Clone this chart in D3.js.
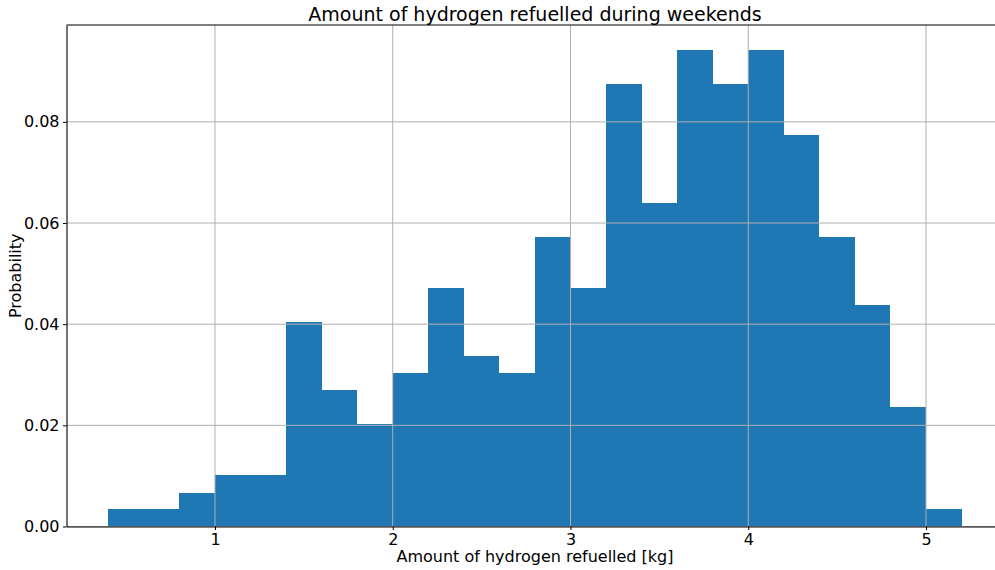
<!DOCTYPE html>
<html>
<head>
<meta charset="utf-8">
<script src="https://cdn.jsdelivr.net/npm/d3@7"></script>
<style>
  body { margin: 0; background: #fff; }
  svg text { font-family: "DejaVu Sans", sans-serif; fill: #000; }
</style>
</head>
<body>
<svg id="chart" width="995" height="570"></svg>
<script>
// histogram bins (kg), width 0.2
const binStarts = [0.4, 0.6, 0.8, 1.0, 1.2, 1.4, 1.6, 1.8, 2.0, 2.2, 2.4, 2.6,
                   2.8, 3.0, 3.2, 3.4, 3.6, 3.8, 4.0, 4.2, 4.4, 4.6, 4.8, 5.0];
const binWidth = 0.2;
const probs = [0.0034, 0.0034, 0.0067, 0.0101, 0.0101, 0.0404, 0.0269, 0.0202,
               0.0303, 0.0471, 0.0337, 0.0303, 0.0572, 0.0471, 0.0875, 0.0640,
               0.0943, 0.0875, 0.0943, 0.0774, 0.0572, 0.0438, 0.0236, 0.0034];
const xTicks = [1, 2, 3, 4, 5];
const yTicks = [0, 0.02, 0.04, 0.06, 0.08];

const width = 995, height = 570;
// axes box runs a bit past the right edge of the page
const margins = { top: 25, bottom: 43.5, left: 66.5, right: -8.5 };
const midX = (margins.left + width - margins.right) / 2;

const svg = d3.select('#chart');

const x = d3.scaleLinear()
    .domain([0.1646, 5.4360])
    .range([margins.left, width - margins.right]);
const y = d3.scaleLinear()
    .domain([0, 0.09915])
    .range([height - margins.bottom, margins.top]);

// bars
svg.append('g')
   .attr('shape-rendering', 'crispEdges')
   .selectAll('rect')
   .data(binStarts)
   .enter()
   .append('rect')
   .attr('x', d => x(d))
   .attr('width', d => x(d + binWidth) - x(d))
   .attr('y', (d, i) => y(probs[i]))
   .attr('height', (d, i) => y(0) - y(probs[i]))
   .attr('fill', '#1f77b4');

// grid (drawn over bars)
svg.append('g')
   .selectAll('line')
   .data(xTicks)
   .enter()
   .append('line')
   .attr('x1', d => x(d)).attr('x2', d => x(d))
   .attr('y1', margins.top).attr('y2', height - margins.bottom)
   .attr('stroke', '#b0b0b0').attr('stroke-width', 1);
svg.append('g')
   .selectAll('line')
   .data(yTicks)
   .enter()
   .append('line')
   .attr('x1', margins.left).attr('x2', width)
   .attr('y1', d => y(d)).attr('y2', d => y(d))
   .attr('stroke', '#b0b0b0').attr('stroke-width', 1);

// axes
const xAxis = d3.axisBottom(x).tickValues(xTicks).tickFormat(d3.format('d'))
    .tickSizeInner(3.5).tickSizeOuter(0).tickPadding(3.5);
const yAxis = d3.axisLeft(y).tickValues(yTicks).tickFormat(d3.format('.2f'))
    .tickSizeInner(3.5).tickSizeOuter(0).tickPadding(3.5);

const gx = svg.append('g')
   .attr('transform', `translate(0,${height - margins.bottom})`)
   .call(xAxis);
const gy = svg.append('g')
   .attr('transform', `translate(${margins.left},0)`)
   .call(yAxis);

[gx, gy].forEach(g => {
    g.select('.domain').attr('stroke', '#000').attr('stroke-width', 1.1);
    g.selectAll('.tick line').attr('stroke', '#000').attr('stroke-width', 1);
    g.selectAll('.tick text').attr('font-size', 16).attr('fill', '#000')
     .style('font-family', '"DejaVu Sans", sans-serif');
});

// top spine
svg.append('line')
   .attr('x1', margins.left).attr('x2', width)
   .attr('y1', margins.top).attr('y2', margins.top)
   .attr('stroke', '#000').attr('stroke-width', 1.1);

// labels
svg.append('text')
   .attr('x', midX)
   .attr('y', 21)
   .attr('text-anchor', 'middle')
   .attr('font-size', 19)
   .text('Amount of hydrogen refuelled during weekends');

svg.append('text')
   .attr('x', midX)
   .attr('y', 562)
   .attr('text-anchor', 'middle')
   .attr('font-size', 16)
   .text('Amount of hydrogen refuelled [kg]');

svg.append('text')
   .attr('transform', `translate(21,${(margins.top + height - margins.bottom) / 2}) rotate(-90)`)
   .attr('text-anchor', 'middle')
   .attr('font-size', 16)
   .text('Probability');
</script>
</body>
</html>
